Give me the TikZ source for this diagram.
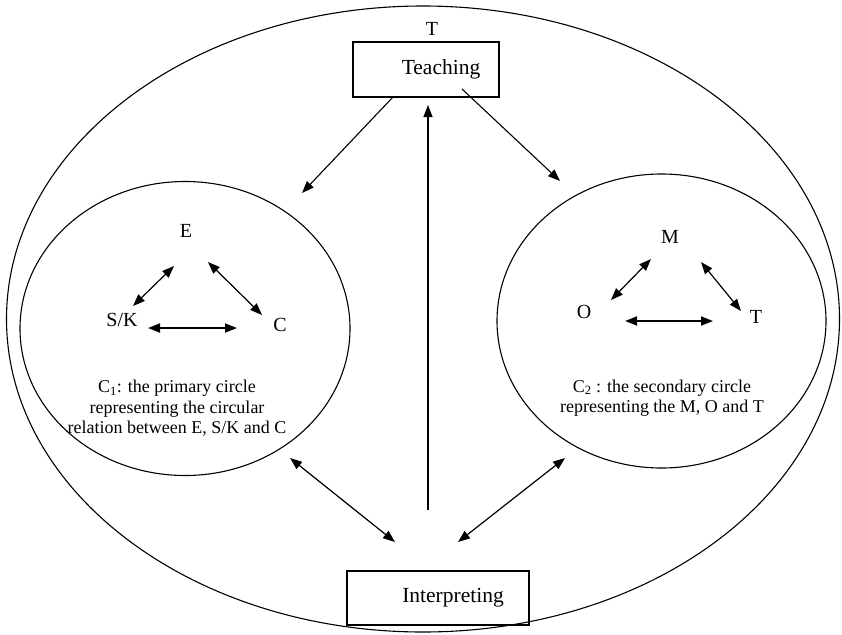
\documentclass[tikz,border=0pt]{standalone}
\usepackage{fontspec}
\setmainfont{Liberation Serif}
\usetikzlibrary{arrows.meta,shapes.geometric}

\begin{document}
\begin{tikzpicture}
  [x=1pt,y=-1pt,
  ring/.style={draw,ellipse,line width=1.1pt,inner sep=0pt},
  box/.style={draw,rectangle,line width=1.1pt,font=\fontsize{21.5}{24}\selectfont},
  letter/.style={font=\fontsize{20}{22}\selectfont},
  caption/.style={align=center,font=\fontsize{18}{20.5}\selectfont},
  link/.style={line width=1.1pt,-{Triangle[length=12pt,width=9pt]}},
  twoway/.style={line width=1.2pt,{Triangle[length=12pt,width=9pt]}-{Triangle[length=12pt,width=9pt]}}]
  \useasboundingbox (0,0) rectangle (842,634);
  % circles
  \node[ring,minimum width=833pt,minimum height=626pt] (outer) at (423,319) {};
  \node[ring,minimum width=330pt,minimum height=294pt] (prim) at (185,328.5) {};
  \node[ring,minimum width=329pt,minimum height=294pt] (sec) at (661.5,321) {};
  % boxes
  \node[letter] (tlabel) at (432,29) {T};
  \node[box,minimum width=146pt,minimum height=55pt] (teach) at (426,69.5) {\hspace*{30pt}Teaching};
  \node[box,minimum width=182pt,minimum height=54pt] (interp) at (438,598) {\hspace*{30pt}Interpreting};
  % primary circle
  \node[letter] (e) at (186,231) {E};
  \node[letter] (sk) at (122,320) {S/K};
  \node[letter] (c) at (280,325) {C};
  \node[caption] (primtext) at (177,408.5) {C\textsubscript{1}: the primary circle\\representing the circular\\relation between E, S/K and C};
  % secondary circle
  \node[letter] (m) at (670,237) {M};
  \node[letter] (o) at (584,312) {O};
  \node[letter] (t) at (756,317) {T};
  \node[caption] (sectext) at (662,398) {C\textsubscript{2} : the secondary circle\\representing the M, O and T};
  % arrow ends
  \coordinate (tl) at (393,97);
  \coordinate (pl) at (302,193);
  \coordinate (tr) at (462,89);
  \coordinate (sr) at (560,181);
  \coordinate (ib) at (428,510);
  \coordinate (it) at (428,105);
  \coordinate (pb) at (290,458);
  \coordinate (il) at (395,542);
  \coordinate (sb) at (565,458);
  \coordinate (ir) at (458,542);
  \coordinate (e1) at (174,266);
  \coordinate (sk1) at (133,306);
  \coordinate (e2) at (208,262);
  \coordinate (c1) at (262,315);
  \coordinate (sk2) at (148,328);
  \coordinate (c2) at (237,328);
  \coordinate (m1) at (651,259);
  \coordinate (o1) at (611,300);
  \coordinate (m2) at (701,262);
  \coordinate (t1) at (741,311);
  \coordinate (o2) at (625,321);
  \coordinate (t2) at (713,321);
  % connectors
  \draw[link] (tl) -- (pl);
  \draw[link] (tr) -- (sr);
  \draw[link] (ib) -- (it);
  \draw[twoway] (pb) -- (il);
  \draw[twoway] (sb) -- (ir);
  \draw[twoway] (e1) -- (sk1);
  \draw[twoway] (e2) -- (c1);
  \draw[twoway,line width=1.7pt] (sk2) -- (c2);
  \draw[twoway] (m1) -- (o1);
  \draw[twoway] (m2) -- (t1);
  \draw[twoway,line width=1.7pt] (o2) -- (t2);
\end{tikzpicture}
\end{document}
